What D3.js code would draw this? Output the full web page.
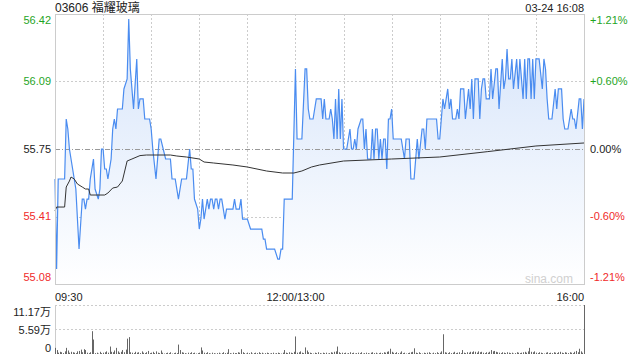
<!DOCTYPE html>
<html>
<head>
<meta charset="utf-8">
<script src="https://cdn.jsdelivr.net/npm/d3@7"></script>
<style>
  body { margin: 0; background: #fff; }
  svg { display: block; }
  text { font-family: Arial, "Liberation Sans", "Noto Sans CJK SC", sans-serif; }
</style>
</head>
<body>
<svg id="chart" width="640" height="360"></svg>
<script>
// minute index (0 = 09:30, 150 = 12:00/13:00, 330 = 16:00) -> last price
var priceTicks = [[0,55.60],[1,55.15],[2,55.60],[6,55.60],[7,55.90],[8,55.85],[9,55.75],[11,55.65],[13,55.55],[15,55.25],[17,55.50],[18,55.50],[19,55.45],[20,55.50],[21,55.50],[22,55.60],[24,55.70],[25,55.55],[27,55.50],[28,55.55],[29,55.75],[30,55.75],[31,55.65],[32,55.65],[33,55.60],[35,55.70],[36,55.85],[37,55.90],[38,55.85],[39,55.95],[42,55.95],[43,56.05],[45,56.10],[46,56.40],[47,56.15],[49,55.95],[51,56.20],[52,55.95],[53,56.00],[55,56.00],[56,55.90],[59,55.90],[60,55.85],[61,55.75],[63,55.60],[64,55.70],[65,55.80],[66,55.80],[69,55.70],[72,55.70],[73,55.60],[75,55.60],[77,55.50],[79,55.60],[82,55.60],[84,55.75],[85,55.65],[86,55.65],[87,55.50],[89,55.45],[90,55.35],[91,55.40],[92,55.50],[93,55.40],[94,55.45],[95,55.50],[96,55.45],[97,55.50],[98,55.50],[99,55.45],[100,55.50],[101,55.50],[102,55.45],[103,55.50],[104,55.50],[105,55.45],[106,55.40],[107,55.45],[111,55.45],[112,55.50],[113,55.45],[115,55.45],[116,55.50],[117,55.40],[120,55.40],[122,55.35],[129,55.35],[130,55.30],[131,55.30],[132,55.25],[137,55.25],[139,55.20],[140,55.20],[141,55.25],[142,55.25],[143,55.50],[148,55.50],[150,56.15],[151,55.80],[154,55.80],[156,56.15],[157,56.15],[158,55.95],[159,55.90],[161,55.90],[163,56.00],[166,56.00],[167,55.90],[168,56.00],[169,55.90],[171,55.90],[172,55.95],[173,55.90],[174,55.80],[175,56.00],[176,55.80],[177,56.05],[178,55.80],[179,56.00],[180,55.75],[182,55.75],[184,55.85],[185,55.75],[186,55.75],[187,55.80],[188,55.75],[189,55.85],[191,55.90],[192,55.90],[193,55.75],[194,55.85],[195,55.70],[197,55.70],[198,55.85],[199,55.70],[200,55.85],[201,55.85],[202,55.70],[203,55.80],[204,55.70],[205,55.80],[206,55.80],[207,55.65],[208,55.90],[209,55.90],[210,55.95],[211,55.80],[216,55.80],[218,55.70],[219,55.80],[221,55.80],[222,55.60],[224,55.60],[226,55.80],[227,55.70],[229,55.85],[230,55.85],[231,55.75],[232,55.90],[238,55.90],[239,55.80],[240,55.80],[242,56.00],[243,55.95],[245,56.05],[246,55.95],[247,56.00],[248,55.90],[250,55.90],[251,55.95],[252,55.90],[253,56.05],[255,56.05],[256,55.90],[258,56.05],[259,55.95],[260,56.10],[261,55.90],[262,56.10],[264,56.10],[265,55.90],[266,56.05],[267,56.10],[268,56.10],[269,56.00],[271,56.00],[272,56.15],[273,56.00],[275,56.15],[276,56.15],[277,55.95],[279,56.20],[280,56.05],[281,56.10],[282,56.25],[283,56.10],[284,56.10],[285,56.20],[286,56.05],[288,56.20],[289,56.05],[290,56.20],[292,56.00],[293,56.20],[294,56.00],[295,56.20],[296,56.20],[297,56.00],[298,56.20],[299,56.00],[300,56.20],[302,56.20],[304,56.05],[305,56.20],[306,56.15],[307,56.00],[308,55.90],[310,55.90],[312,56.05],[313,55.95],[314,56.05],[316,56.05],[317,55.90],[318,55.85],[320,55.85],[322,55.95],[323,55.90],[324,55.90],[325,55.85],[327,56.00],[328,56.00],[329,55.85],[330,56.00]]

// average price line
var avgTicks = [[0,55.44],[1,55.46],[6,55.46],[7,55.56],[9,55.59],[10,55.61],[12,55.60],[14,55.575],[17,55.56],[19,55.55],[21,55.55],[22,55.52],[31,55.52],[33,55.53],[36,55.555],[39,55.56],[42,55.59],[45,55.69],[48,55.70],[53,55.717],[57,55.72],[72,55.72],[76,55.715],[82,55.71],[90,55.70],[93,55.685],[99,55.68],[111,55.67],[120,55.66],[132,55.64],[142,55.63],[149,55.63],[154,55.64],[160,55.66],[165,55.67],[180,55.69],[210,55.70],[240,55.71],[270,55.737],[300,55.765],[330,55.78]]

// volume per minute, in 万
var volumes = [
  1.4,0.9,0.3,0.5,0.4,0.2,0.6,1.4,0.8,0.3,0.5,0.4,0.3,0.2,0.6,0.7,1.0,0.4,1.1,0.9,
  0.3,0.2,0.4,5.2,3.3,0.2,0.3,0.1,0.5,0.2,0.3,0.4,0.6,0.3,1.7,0.5,0.4,0.8,1.4,0.6,
  0.3,0.5,0.9,0.4,1.0,3.5,3.85,0.4,0.3,0.2,0.5,0.3,0.4,0.2,0.6,0.3,0.2,0.4,0.7,0.2,
  0.3,0.5,0.2,0.6,0.3,0.2,0.8,0.3,0.1,0.2,0.3,0.2,0.4,0.1,0.2,0.3,0.2,2.15,0.9,0.4,
  0.3,0.2,0.1,0.3,0.2,0.4,0.2,0.3,0.1,0.2,0.3,1.5,0.8,0.3,0.2,0.4,0.2,0.1,0.3,0.2,
  0.1,0.2,0.3,0.1,0.2,0.4,0.2,0.3,1.1,0.2,0.1,0.3,0.2,0.2,0.4,0.3,1.1,0.4,0.2,0.1,
  0.3,0.2,0.4,0.1,0.2,0.3,0.2,0.4,0.2,0.3,0.1,0.2,0.3,0.2,0.1,0.2,0.3,0.1,0.2,0.3,
  0.2,0.1,0.3,0.9,0.3,0.2,0.4,0.3,0.2,0.5,4.0,0.3,0.4,0.6,0.3,0.2,1.5,0.8,0.4,0.3,
  0.2,0.1,0.3,0.2,0.4,0.2,0.1,0.3,0.2,0.3,0.1,0.2,0.4,0.3,0.5,0.6,1.7,0.4,0.2,0.3,
  0.2,0.3,0.1,0.2,0.4,0.2,0.3,0.1,0.2,0.3,0.2,0.4,0.1,0.2,0.3,0.2,0.1,0.3,0.4,0.2,
  0.3,0.1,0.2,0.3,0.2,0.4,0.3,0.5,0.6,1.2,0.5,0.3,0.2,0.4,0.2,0.3,0.6,0.2,0.3,0.1,
  0.2,0.3,0.4,0.5,1.3,0.3,0.2,0.4,0.2,0.1,0.3,0.2,0.3,0.4,0.2,0.1,0.3,0.2,0.4,0.2,
  0.3,0.6,4.5,0.4,0.3,0.2,0.4,0.2,0.3,0.5,0.2,0.3,0.4,0.2,0.9,0.3,0.2,0.4,0.3,0.5,
  0.4,0.6,0.5,0.3,0.6,0.4,0.5,0.3,0.2,0.4,0.3,0.5,0.9,0.6,0.7,0.5,0.4,0.3,0.2,0.4,
  0.3,0.2,0.4,0.3,0.2,0.3,0.1,0.2,0.4,0.3,0.2,0.3,0.4,0.5,0.3,0.6,1.4,0.5,0.4,0.6,
  0.3,0.2,0.4,0.3,0.2,0.1,0.3,0.4,0.2,0.3,0.2,0.4,0.3,0.2,0.4,0.5,0.3,0.2,0.4,0.3,
  0.2,0.4,0.3,0.2,0.5,0.7,0.4,1.2,0.6,0.3,11.17
]

var prevClose = 55.75
var priceLabels = ["55.08", "55.41", "55.75", "56.09", "56.42"]
var pctLabels = ["-1.21%", "-0.60%", "0.00%", "+0.60%", "+1.21%"]
var volLabels = ["0", "5.59万", "11.17万"]
var timeLabels = [[0, "09:30", "start"], [150, "12:00/13:00", "middle"], [330, "16:00", "end"]]
var title = "03606 福耀玻璃"
var stamp = "03-24 16:08"

var dim = { left: 55, right: 584, top: 14, bottom: 284, volTop: 305, volBottom: 354 }
var green = "#1fa51f", red = "#f02a2a", dark = "#222"

var svg = d3.select("#chart")

var x = d3.scaleLinear().domain([0, 330]).range([dim.left, dim.right])
var yMax = prevClose * 1.0121, yMin = prevClose * (1 - 0.0121)
var y = d3.scaleLinear().domain([yMin, yMax]).range([dim.bottom, dim.top])
var yv = d3.scaleLinear().domain([0, 11.17]).range([dim.volBottom, dim.volTop])
var levels = [yMin, (yMin + prevClose) / 2, prevClose, (yMax + prevClose) / 2, yMax]

var defs = svg.append("defs")
var grad = defs.append("linearGradient").attr("id", "fill")
  .attr("gradientUnits", "userSpaceOnUse")
  .attr("x1", 0).attr("y1", dim.top).attr("x2", 0).attr("y2", dim.bottom)
grad.append("stop").attr("offset", 0).attr("stop-color", "#d4e3fa")
grad.append("stop").attr("offset", 1).attr("stop-color", "#ffffff")

// vertical grid
svg.append("g").selectAll("line")
  .data(d3.range(30, 330, 30))
  .enter().append("line")
  .attr("x1", d => Math.round(x(d)) + 0.5).attr("x2", d => Math.round(x(d)) + 0.5)
  .attr("y1", dim.top).attr("y2", dim.bottom)
  .attr("stroke", "#ccc").attr("stroke-dasharray", "2,2")

// horizontal grid
svg.append("g").selectAll("line")
  .data([levels[1], levels[3]])
  .enter().append("line")
  .attr("x1", dim.left).attr("x2", dim.right)
  .attr("y1", d => Math.round(y(d)) + 0.5).attr("y2", d => Math.round(y(d)) + 0.5)
  .attr("stroke", "#ccc").attr("stroke-dasharray", "2,2")

// area + price line
var area = d3.area().x(d => x(d[0])).y0(dim.bottom).y1(d => y(d[1]))
svg.append("path").datum(priceTicks).attr("d", area).attr("fill", "url(#fill)")

svg.append("line")
  .attr("x1", dim.left).attr("x2", dim.right)
  .attr("y1", Math.round(y(prevClose)) + 0.5).attr("y2", Math.round(y(prevClose)) + 0.5)
  .attr("stroke", "#999").attr("stroke-dasharray", "5,2,1,2")

var line = d3.line().x(d => x(d[0])).y(d => y(d[1]))
svg.append("path").datum(priceTicks).attr("d", line)
  .attr("fill", "none").attr("stroke", "#4a8cf0").attr("stroke-width", 1.2)
svg.append("path").datum(avgTicks).attr("d", line)
  .attr("fill", "none").attr("stroke", "#333").attr("stroke-width", 1)

// border
svg.append("rect")
  .attr("x", dim.left + 0.5).attr("y", dim.top + 0.5)
  .attr("width", dim.right - dim.left).attr("height", dim.bottom - dim.top)
  .attr("fill", "none").attr("stroke", "#ccc")

// left / right labels
function labelColor(i) { return i < 2 ? red : (i > 2 ? green : dark) }
function labelY(i) { return i == 0 ? y(levels[i]) - 7 : (i == 4 ? y(levels[i]) + 6 : y(levels[i])) }
svg.append("g").selectAll("text")
  .data(priceLabels).enter().append("text")
  .attr("x", dim.left - 4).attr("y", (d, i) => labelY(i))
  .attr("dy", "0.35em").attr("text-anchor", "end")
  .attr("font-size", 11).attr("fill", (d, i) => labelColor(i))
  .text(d => d)
svg.append("g").selectAll("text")
  .data(pctLabels).enter().append("text")
  .attr("x", dim.right + 6).attr("y", (d, i) => labelY(i))
  .attr("dy", "0.35em")
  .attr("font-size", 11).attr("fill", (d, i) => labelColor(i))
  .text(d => d)

// time labels
svg.append("g").selectAll("text")
  .data(timeLabels).enter().append("text")
  .attr("x", d => x(d[0])).attr("y", 297)
  .attr("dy", "0.35em").attr("text-anchor", d => d[2])
  .attr("font-size", 11).attr("fill", dark)
  .text(d => d[1])

// title
svg.append("text").attr("x", dim.left).attr("y", 12)
  .attr("font-size", 12).attr("fill", dark).text(title)
svg.append("text").attr("x", dim.right).attr("y", 12).attr("text-anchor", "end")
  .attr("font-size", 11).attr("fill", dark).text(stamp)

// watermark
svg.append("text").attr("x", 573).attr("y", 283).attr("text-anchor", "end")
  .attr("font-size", 12).attr("fill", "#d0d0d0").text("sina.com")

// volume panel
svg.append("g").selectAll("line")
  .data([11.17, 5.59]).enter().append("line")
  .attr("x1", dim.left).attr("x2", dim.right)
  .attr("y1", d => Math.round(yv(d)) + 0.5).attr("y2", d => Math.round(yv(d)) + 0.5)
  .attr("stroke", "#ccc").attr("stroke-dasharray", "2,2")
svg.append("line")
  .attr("x1", dim.left + 0.5).attr("x2", dim.left + 0.5)
  .attr("y1", dim.volTop).attr("y2", dim.volBottom)
  .attr("stroke", "#ccc")

svg.append("g").selectAll("rect")
  .data(volumes).enter().append("rect")
  .attr("x", (d, i) => Math.round(x(i)))
  .attr("y", d => yv(d))
  .attr("width", 1)
  .attr("height", d => dim.volBottom - yv(d))
  .attr("fill", "#666")

svg.append("g").selectAll("text")
  .data(volLabels).enter().append("text")
  .attr("x", dim.left - 4)
  .attr("y", (d, i) => [348.5, 330, 312][i])
  .attr("dy", "0.35em").attr("text-anchor", "end")
  .attr("font-size", 11).attr("fill", dark)
  .text(d => d)

console.log(volumes.length)
</script>
</body>
</html>
